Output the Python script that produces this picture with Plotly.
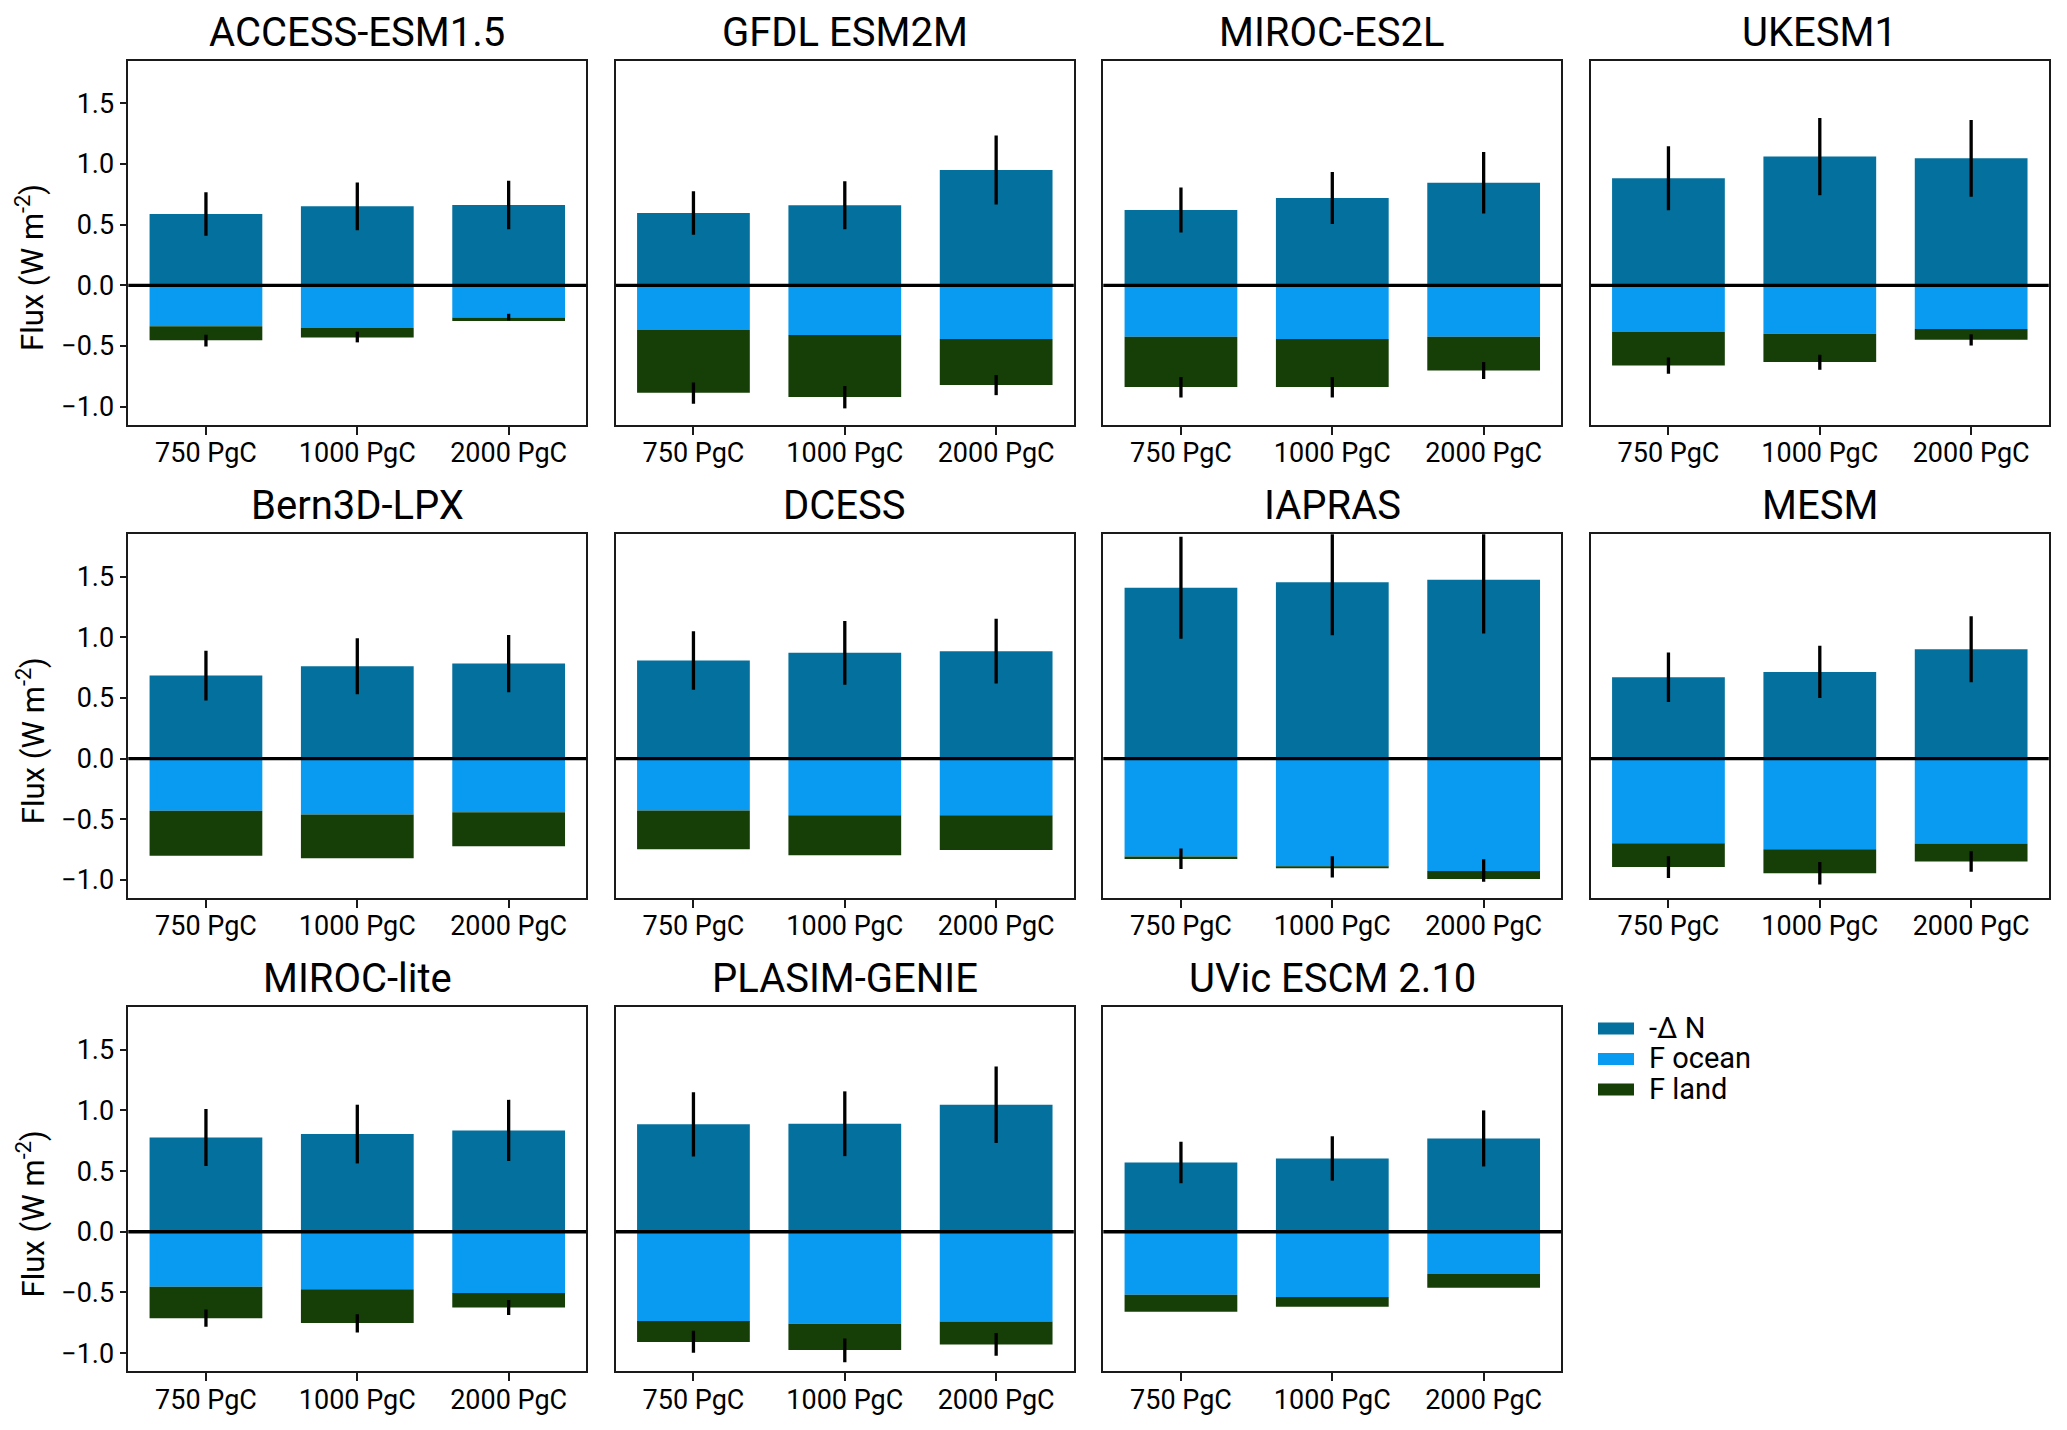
import plotly.graph_objects as go

# ---------------- data ----------------
models = ["ACCESS-ESM1.5", "GFDL ESM2M", "MIROC-ES2L", "UKESM1",
          "Bern3D-LPX", "DCESS", "IAPRAS", "MESM",
          "MIROC-lite", "PLASIM-GENIE", "UVic ESCM 2.10"]
scenarios = ["750 PgC", "1000 PgC", "2000 PgC"]

# -ΔN (W m-2) and its spread (half length of the error bar)
dn_mean = [[0.588, 0.651, 0.662], [0.596, 0.660, 0.951], [0.621, 0.720, 0.846], [0.882, 1.061, 1.047],
           [0.684, 0.761, 0.783], [0.808, 0.871, 0.885], [1.407, 1.453, 1.473], [0.670, 0.714, 0.901],
           [0.777, 0.805, 0.835], [0.885, 0.890, 1.047], [0.571, 0.604, 0.769]]
dn_sd = [[0.179, 0.197, 0.200], [0.179, 0.197, 0.285], [0.186, 0.214, 0.253], [0.264, 0.319, 0.316],
         [0.205, 0.231, 0.236], [0.242, 0.263, 0.267], [0.420, 0.437, 0.443], [0.204, 0.215, 0.272],
         [0.235, 0.242, 0.252], [0.265, 0.267, 0.315], [0.171, 0.183, 0.231]]
# F ocean and F land (negative = uptake, stacked below zero)
f_ocean = [[-0.338, -0.352, -0.264], [-0.368, -0.409, -0.442], [-0.423, -0.442, -0.423], [-0.385, -0.398, -0.360],
           [-0.431, -0.462, -0.442], [-0.429, -0.467, -0.467], [-0.808, -0.890, -0.926], [-0.698, -0.747, -0.701],
           [-0.453, -0.473, -0.505], [-0.736, -0.758, -0.739], [-0.519, -0.538, -0.349]]
f_land = [[-0.115, -0.077, -0.030], [-0.517, -0.512, -0.380], [-0.415, -0.396, -0.278], [-0.275, -0.234, -0.088],
          [-0.371, -0.359, -0.281], [-0.318, -0.330, -0.286], [-0.019, -0.011, -0.066], [-0.195, -0.198, -0.148],
          [-0.259, -0.280, -0.119], [-0.173, -0.217, -0.190], [-0.140, -0.080, -0.113]]
# total uptake (centre of the lower error bar) and its spread; None = no error bar
uptake_mean = [[-0.455, -0.426, -0.262], [-0.888, -0.922, -0.822], [-0.840, -0.840, -0.702], [-0.661, -0.634, -0.450],
               None, None, [-0.826, -0.893, -0.923], [-0.895, -0.945, -0.849],
               [-0.712, -0.755, -0.625], [-0.907, -0.977, -0.929], None]
uptake_sd = [[0.048, 0.044, 0.027], [0.088, 0.092, 0.083], [0.084, 0.084, 0.070], [0.067, 0.062, 0.046],
             None, None, [0.084, 0.088, 0.093], [0.090, 0.093, 0.085],
             [0.072, 0.076, 0.062], [0.091, 0.098, 0.094], None]

ytick_vals = [-1.0, -0.5, 0.0, 0.5, 1.0, 1.5]
ytick_text = ["\u22121.0", "\u22120.5", "0.0", "0.5", "1.0", "1.5"]
series_names = ["-\u0394 N", "F ocean", "F land"]
series_colors = ["#04709d", "#089bf1", "#163f07"]
y_label = "Flux (W m<sup>-2</sup>)"

# ---------------- layout geometry (pixels) ----------------
W, H = 2067, 1430
FONT = "Roboto, Arial, sans-serif"
PANEL_W, PANEL_H = 458, 364
LEFT0, COL_STEP = 128.3, 487.5
TOP0, ROW_STEP = 61, 473.2

fig = go.Figure()
annotations = []
shapes = []

for i, name in enumerate(models):
    r, c = divmod(i, 4)
    k = i + 1
    xa, ya = ("x" if k == 1 else f"x{k}"), ("y" if k == 1 else f"y{k}")
    left = LEFT0 + c * COL_STEP
    right = left + PANEL_W
    top = TOP0 + r * ROW_STEP
    bottom = top + PANEL_H

    # stacked bars
    for s, vals in enumerate([dn_mean[i], f_ocean[i], f_land[i]]):
        fig.add_trace(go.Bar(
            x=scenarios, y=vals, width=0.745, xaxis=xa, yaxis=ya,
            marker=dict(color=series_colors[s], line=dict(width=0)),
            name=series_names[s], showlegend=False, hoverinfo="skip"))

    # error bars: -ΔN
    fig.add_trace(go.Scatter(
        x=scenarios, y=dn_mean[i], mode="markers", xaxis=xa, yaxis=ya,
        marker=dict(size=1, opacity=0), showlegend=False, hoverinfo="skip",
        error_y=dict(type="data", array=dn_sd[i], visible=True,
                     color="black", thickness=3.3, width=0)))
    # error bars: total uptake
    if uptake_mean[i] is not None:
        fig.add_trace(go.Scatter(
            x=scenarios, y=uptake_mean[i], mode="markers", xaxis=xa, yaxis=ya,
            marker=dict(size=1, opacity=0), showlegend=False, hoverinfo="skip",
            error_y=dict(type="data", array=uptake_sd[i], visible=True,
                         color="black", thickness=3.3, width=0)))

    first_col = (c == 0)
    fig.layout[("xaxis" if k == 1 else f"xaxis{k}")] = dict(
        domain=[left / W, right / W], anchor=ya, range=[-0.513, 2.513],
        type="category", showline=True, linecolor="#1a1a1a", linewidth=1.6, mirror=True,
        ticks="outside", ticklen=8, tickwidth=1.6, tickcolor="#1a1a1a",
        ticklabelstandoff=-5,
        showgrid=False, zeroline=False,
        tickfont=dict(family=FONT, size=27, color="black"), fixedrange=True)
    fig.layout[("yaxis" if k == 1 else f"yaxis{k}")] = dict(
        domain=[1 - bottom / H, 1 - top / H], anchor=xa, range=[-1.151, 1.849],
        showline=True, linecolor="#1a1a1a", linewidth=1.6, mirror=True,
        tickvals=ytick_vals, ticktext=ytick_text,
        ticks="outside" if first_col else "", ticklen=7, tickwidth=1.6, tickcolor="#1a1a1a",
        showticklabels=first_col, showgrid=False, zeroline=False,
        tickfont=dict(family=FONT, size=27, color="black"), fixedrange=True)

    # zero line above the bars
    shapes.append(dict(type="line", xref=f"{xa} domain", x0=0, x1=1, yref=ya, y0=0, y1=0,
                       line=dict(color="black", width=3.3), layer="above"))

    # panel title
    annotations.append(dict(text=name, xref="paper", yref="paper",
                            x=(left + right) / 2 / W, y=1 - top / H,
                            xanchor="center", yanchor="bottom", yshift=3, showarrow=False,
                            font=dict(family=FONT, size=40, color="black")))
    # y-axis label on first column
    if first_col:
        annotations.append(dict(text=y_label, xref="paper", yref="paper",
                                x=31 / W, y=1 - ((top + bottom) / 2 + 25) / H,
                                xanchor="center", yanchor="middle", textangle=-90, showarrow=False,
                                font=dict(family=FONT, size=31, color="black")))

# legend (swatches + labels) beside the last row
LEG_X0, LEG_SW_W, LEG_SW_H = 1598, 36, 12
LEG_Y0, LEG_STEP = 1028.5, 30.5
for s in range(3):
    yc = LEG_Y0 + s * LEG_STEP
    shapes.append(dict(type="rect", xref="paper", yref="paper",
                       x0=LEG_X0 / W, x1=(LEG_X0 + LEG_SW_W) / W,
                       y0=1 - (yc + LEG_SW_H / 2) / H, y1=1 - (yc - LEG_SW_H / 2) / H,
                       fillcolor=series_colors[s], line=dict(width=0), layer="above"))
    annotations.append(dict(text=series_names[s], xref="paper", yref="paper",
                            x=(LEG_X0 + LEG_SW_W + 13) / W, y=1 - (yc - 1) / H,
                            xanchor="left", yanchor="middle", showarrow=False,
                            font=dict(family=FONT, size=29, color="black")))

fig.update_layout(
    width=W, height=H, barmode="relative",
    margin=dict(l=0, r=0, t=0, b=0, autoexpand=False),
    paper_bgcolor="white", plot_bgcolor="white",
    font=dict(family=FONT, size=26, color="black"),
    annotations=annotations, shapes=shapes,
    showlegend=False,
)

fig.write_html("out.html", config={"displayModeBar": False},
               post_script="document.body.style.margin='0px';document.body.style.overflow='hidden';")
